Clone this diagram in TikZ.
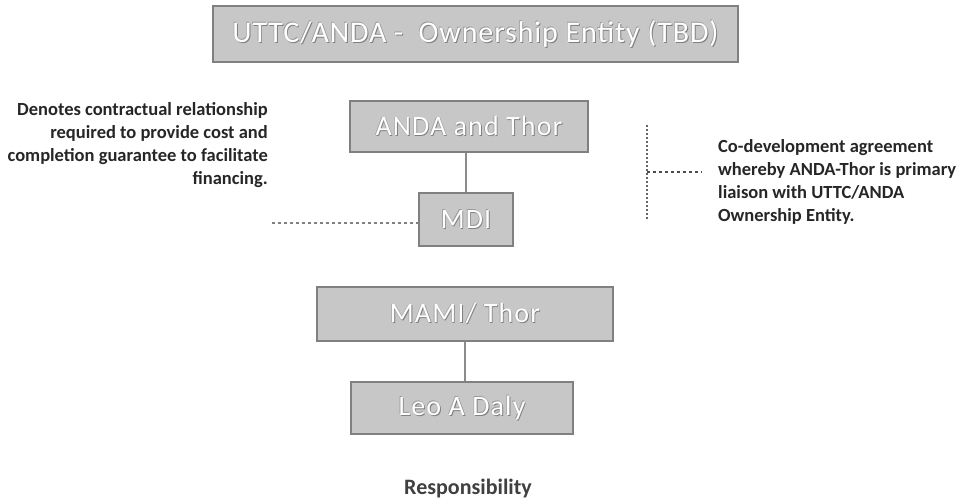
\documentclass[tikz,border=0pt]{standalone}
\usepackage{fontspec}
\setmainfont{Carlito}
\begin{document}
\newcommand\embtext[1]{\makebox[0pt][l]{\kern0.9pt\raisebox{-0.9pt}{\color{black!50}#1}}\makebox[0pt][l]{\kern-0.6pt\raisebox{0.6pt}{\color{black!40}#1}}{\color{white}#1}}
\begin{tikzpicture}[x=1pt,y=-1pt,
  orgbox/.style={draw=black!50, line width=1.3pt, fill=black!22, inner sep=0pt, minimum width=#1},
  orgtext/.style={font=\addfontfeature{LetterSpace=4}\fontsize{28}{30}\selectfont},
  note/.style={font=\bfseries\fontsize{18.5}{23}\selectfont, text=black!85, inner sep=0pt},
  solidlink/.style={draw=black!45, line width=2pt},
  dashlink/.style={draw=black!70, line width=1.2pt, dash pattern=on 3pt off 3pt},
  dotlink/.style={draw=black!60, line width=1.2pt, dash pattern=on 1.5pt off 2.5pt}
]
\useasboundingbox (0,0) rectangle (963,499);
\fill[white] (0,0) rectangle (963,499);

\node[orgbox=525pt, minimum height=56pt, font=\addfontfeature{LetterSpace=3}\fontsize{30}{32}\selectfont] (top) at (475.5,34) {\embtext{UTTC/ANDA -\ \ Ownership Entity (TBD)}};
\node[orgbox=238pt, minimum height=51pt, orgtext] (anda) at (469,126.5) {\embtext{ANDA and Thor}};
\node[orgbox=94pt, minimum height=53pt, orgtext] (mdi) at (466,219.5) {\embtext{MDI}};
\node[orgbox=296pt, minimum height=54pt, orgtext] (mami) at (465,314) {\embtext{MAMI/ Thor}};
\node[orgbox=222pt, minimum height=52pt, orgtext] (leo) at (462,408) {\embtext{Leo A Daly}};

\draw[solidlink] (mdi.north) -- (mdi.north |- anda.south);
\draw[solidlink] (mami.south) -- (mami.south |- leo.north);

\node[note, anchor=east, align=right] (lefttext) at (268,145) {Denotes contractual relationship\\required to provide cost and\\completion guarantee to facilitate\\financing.};
\node[note, anchor=west, align=left] (righttext) at (718,182) {Co-development agreement\\whereby ANDA-Thor is primary\\liaison with UTTC/ANDA\\Ownership Entity.};

\coordinate (lstart) at (272,223);
\draw[dashlink, draw=black!50] (lstart) -- (mdi.west |- lstart);

\coordinate (vtop) at (647,125);
\coordinate (vbot) at (647,220);
\coordinate (hend) at (702,172);
\draw[dotlink] (vtop) -- (vbot);
\draw[dashlink] (vtop |- hend) -- (hend);

\node[font=\bfseries\fontsize{22}{24}\selectfont, text=black!75] (resp) at (468,488) {Responsibility};
\end{tikzpicture}
\end{document}
